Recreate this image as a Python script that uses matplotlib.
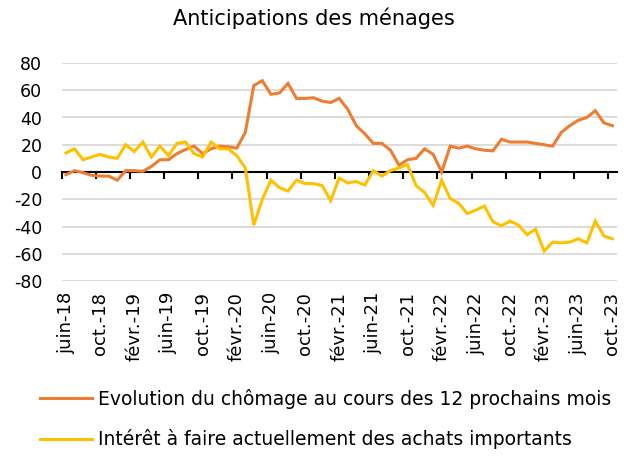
import matplotlib
matplotlib.use("Agg")
import matplotlib.pyplot as plt
import numpy as np

months = ["janv.", "févr.", "mars", "avr.", "mai", "juin", "juil.", "août",
          "sept.", "oct.", "nov.", "déc."]
start_year, start_month = 2018, 6
n_points = 65
dates = []
for k in range(n_points):
    m = start_month - 1 + k
    dates.append(f"{months[m % 12]}-{(start_year + m // 12) % 100:02d}")

chomage = [-2, 1, -0.5, -2.5, -3, -3, -6, 1, 1, 0.5,
           4, 9, 9, 13.5, 16.5, 19, 13.5, 17, 19, 18.5,
           17.5, 29, 63.5, 67, 57, 58, 65, 54, 54, 54.5,
           52, 51, 54, 46, 34, 28, 21, 21, 16, 5,
           9, 10, 17, 13, 0, 19, 17.5, 19, 17, 16,
           15.5, 24, 22, 22, 22, 21, 20, 19, 29, 34,
           38, 40, 45, 36, 34]

achats = [14, 17, 9, 11, 13, 11, 10, 20, 15, 22,
          11, 19, 12, 21, 22, 13.5, 11, 22, 17, 17,
          12, 3, -39, -20, -6, -11.5, -14, -6, -8.5, -8.5,
          -10, -21, -4.5, -8, -7, -9.5, 1, -3, 1, 3,
          5.5, -10, -15, -24.5, -6, -19.5, -23, -30.5, -28, -25,
          -36.5, -39.5, -36, -39, -46, -42, -58, -51.5, -52, -51.5,
          -49, -52, -36, -47, -49]

label_step = 4
y_ticks = list(range(-80, 81, 20))
title = "Anticipations des ménages"
series_names = ["Evolution du chômage au cours des 12 prochains mois",
                "Intérêt à faire actuellement des achats importants"]
colors = ["#ED7D31", "#FFC000"]

plt.rcParams["font.family"] = ["DejaVu Sans"]
fig = plt.figure(figsize=(6.37, 4.61), dpi=100)
ax = fig.add_axes([61.7 / 637, 1 - 281 / 461, 555 / 637, 218 / 461])

x = np.arange(n_points)
l1, = ax.plot(x, chomage, color=colors[0], lw=2.2, solid_joinstyle="miter", zorder=3)
l2, = ax.plot(x, achats, color=colors[1], lw=2.2, solid_joinstyle="miter", zorder=3)

ax.set_xlim(-0.5, n_points - 0.5)
ax.set_ylim(-80, 80)
ax.set_yticks(y_ticks)
ax.set_yticklabels([str(v) for v in y_ticks])
ax.grid(axis="y", color="#d9d9d9", lw=1.3, zorder=0)
ax.set_axisbelow(True)
ax.tick_params(axis="y", length=0, pad=14, labelsize=12.5)

for s in ["top", "right", "left"]:
    ax.spines[s].set_visible(False)
ax.spines["bottom"].set_position(("data", 0))
ax.spines["bottom"].set_color("black")
ax.spines["bottom"].set_linewidth(1.5)
ax.spines["bottom"].set_zorder(2)
ax.set_xticks(np.arange(-0.5, n_points, label_step))
ax.tick_params(axis="x", length=5, width=1.5, direction="out", labelbottom=False)

sec = ax.secondary_xaxis(0)
sec.spines["bottom"].set_visible(False)
sec.set_xticks(x[::label_step])
sec.set_xticklabels(dates[::label_step], rotation=90)
sec.tick_params(axis="x", length=0, pad=8, labelsize=13)
for lab in sec.get_xticklabels():
    lab.set_horizontalalignment("center")

fig.text(0.492, 1 - 18 / 461, title, ha="center", va="center", fontsize=15)

fig.legend([l1, l2], series_names, loc="upper left",
           bbox_to_anchor=(23 / 637, 1 - 372 / 461), frameon=False,
           fontsize=13.5, handlelength=2.77, handletextpad=0.32, labelspacing=1.09)

fig.savefig("out.png", dpi=100)
